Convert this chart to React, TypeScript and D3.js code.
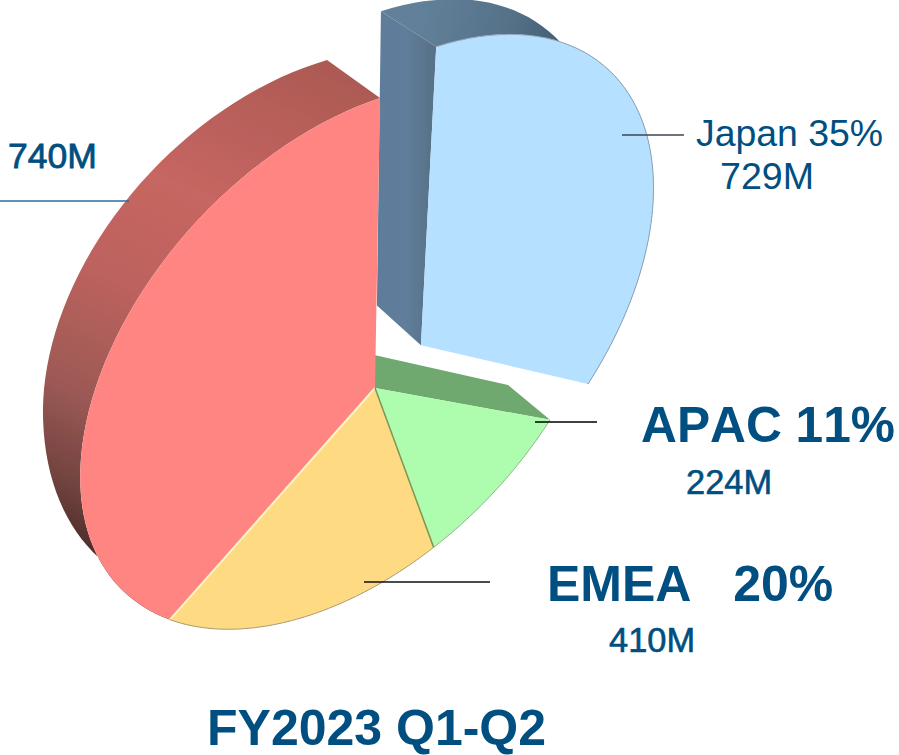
import React from 'react';
import * as d3 from 'd3';

// clockwise from 12 o'clock, the last region's name is cropped out of the picture
const regions = ['Japan', 'APAC', 'EMEA', 'Other'];
const revenue = [729, 224, 410, 740];
const shares = [35, 11, 20, 36];
const faceColors = ['#b5e0ff', '#aefcae', '#fedb82', '#ff8583'];

const svgWidth = 899;
const svgHeight = 755;
const textBlue = '#004f80';

// perspective of the pie's top face: unit disc -> screen
const center = { x: 375, y: 388 };
const A = { a: 257.7, b: 4.1, c: -118.2, d: -236.9 };
const G = { x: 0.1115, y: -0.183 };
const explodeJapan = 0.2;

type Pt = [number, number];

function project(x: number, y: number): Pt {
  const w = 1 + G.x * x + G.y * y;
  return [center.x + (A.a * x + A.b * y) / w, center.y + (A.c * x + A.d * y) / w];
}

// the pie's thickness, a little shorter towards the viewer
function back(p: Pt): Pt {
  const nearBottom = 0.127 * Math.max(0, p[1] - 477);
  const farRight = -0.05 * Math.max(0, p[0] - 420) * Math.max(0, 1 - p[1] / 300);
  return [
    p[0] + (-54.4 - 0.0059 * p[0] + 0.0373 * p[1]),
    p[1] + (-53.5 + 0.0446 * p[0] - 0.0142 * p[1] + nearBottom + farRight),
  ];
}

const pie = d3.pie<number>().sort(null).startAngle(0).endAngle(2 * Math.PI);
const arcs = pie(revenue);
const line = d3.line<Pt>();

function slice(i: number) {
  const { startAngle, endAngle } = arcs[i];
  let ox = 0;
  let oy = 0;
  if (regions[i] === 'Japan') {
    const mid = (startAngle + endAngle) / 2;
    ox = explodeJapan * Math.sin(mid);
    oy = explodeJapan * Math.cos(mid);
  }
  const apex = project(ox, oy);
  const rim = d3
    .range(0, 61)
    .map(k => startAngle + ((endAngle - startAngle) * k) / 60)
    .map(t => project(ox + Math.sin(t), oy + Math.cos(t)));
  return { apex, rim };
}

const slices = regions.map((_, i) => slice(i));

const facePath = (i: number) => line([slices[i].apex, ...slices[i].rim])! + 'Z';
const outerWall = (i: number) =>
  line([...slices[i].rim, ...slices[i].rim.map(back).reverse()])! + 'Z';
const startWall = (i: number) => {
  const { apex, rim } = slices[i];
  return line([apex, rim[0], back(rim[0]), back(apex)])! + 'Z';
};

const labels = [
  { text: `${regions[0]} ${shares[0]}%`, x: 696, y: 146, size: 37.4, weight: 400, stroke: 0 },
  { text: `${revenue[0]}M`, x: 720, y: 189, size: 37.6, weight: 400, stroke: 0 },
  { text: `${revenue[3]}M`, x: 8, y: 168, size: 35.5, weight: 400, stroke: 0.8 },
  { text: `${regions[1]} ${shares[1]}%`, x: 641, y: 442, size: 49.7, weight: 700, stroke: 0 },
  { text: `${revenue[1]}M`, x: 686, y: 494, size: 34.4, weight: 400, stroke: 0.6 },
  { text: `${regions[2]}   ${shares[2]}%`, x: 547, y: 601, size: 50, weight: 700, stroke: 0 },
  { text: `${revenue[2]}M`, x: 609, y: 652, size: 34.4, weight: 400, stroke: 0.6 },
  { text: 'FY2023 Q1-Q2', x: 207, y: 745, size: 50, weight: 700, stroke: 0 },
];

const leaders = [
  { x1: 0, x2: 129, y: 201, color: '#2f6c9c' },
  { x1: 622, x2: 684, y: 135, color: '#3c4650' },
  { x1: 535, x2: 597, y: 422, color: '#000' },
  { x1: 364, x2: 490, y: 582, color: '#111' },
];

export default function App() {
  return (
    <svg
      width={svgWidth}
      height={svgHeight}
      style={{ position: 'absolute', left: 0, top: 0 }}
      fontFamily="'Liberation Sans', Arial, sans-serif"
    >
      <defs>
        <linearGradient id="redWall" gradientUnits="userSpaceOnUse" x1="300" y1="60" x2="70" y2="560">
          <stop offset="0" stopColor="#ad5a54" />
          <stop offset="0.3" stopColor="#c76662" />
          <stop offset="0.5" stopColor="#bd625e" />
          <stop offset="0.72" stopColor="#9c5955" />
          <stop offset="0.88" stopColor="#6f423e" />
          <stop offset="1" stopColor="#462624" />
        </linearGradient>
        <linearGradient id="japanTop" gradientUnits="userSpaceOnUse" x1="420" y1="20" x2="590" y2="50">
          <stop offset="0" stopColor="#628099" />
          <stop offset="0.5" stopColor="#557289" />
          <stop offset="1" stopColor="#3c5468" />
        </linearGradient>
        <linearGradient id="japanSide" gradientUnits="userSpaceOnUse" x1="380" y1="0" x2="430" y2="0">
          <stop offset="0" stopColor="#5e7c9a" />
          <stop offset="0.5" stopColor="#607e9b" />
          <stop offset="1" stopColor="#587288" />
        </linearGradient>
        <filter id="soft" x="-5%" y="-5%" width="110%" height="110%">
          <feGaussianBlur stdDeviation="0.5" />
        </filter>
      </defs>

      <g filter="url(#soft)">
        <path d={startWall(1)} fill="#6fa970" />
        <path d={outerWall(3)} fill="url(#redWall)" />
        <path d={outerWall(0)} fill="url(#japanTop)" />
        <path d={startWall(0)} fill="url(#japanSide)" />
        {[3, 2, 1, 0].map(i => (
          <path key={regions[i]} d={facePath(i)} fill={faceColors[i]} />
        ))}
        {/* bevel lines on the cuts and along the rims */}
        <path d={line([slices[2].rim[60], slices[2].apex])!} fill="none" stroke="#fff4c4" strokeWidth={2} />
        <path d={line([slices[1].rim[60], slices[1].apex])!} fill="none" stroke="#7f9455" strokeWidth={1.5} />
        <path d={line(slices[0].rim)!} fill="none" stroke="#8ea3b6" strokeWidth={1} />
        <path d={line(slices[2].rim)!} fill="none" stroke="#a89a70" strokeWidth={1} />
        <path d={line(slices[1].rim)!} fill="none" stroke="#8bb48b" strokeWidth={1} />
      </g>

      {leaders.map(d => (
        <line key={d.x1} x1={d.x1} x2={d.x2} y1={d.y} y2={d.y} stroke={d.color} strokeWidth={1.3} />
      ))}

      {labels.map(d => (
        <text
          key={d.text}
          x={d.x}
          y={d.y}
          fontSize={d.size}
          fontWeight={d.weight}
          fill={textBlue}
          stroke={d.stroke ? textBlue : 'none'}
          strokeWidth={d.stroke}
          style={{ whiteSpace: 'pre', fontKerning: 'none' }}
        >
          {d.text}
        </text>
      ))}
    </svg>
  );
}
